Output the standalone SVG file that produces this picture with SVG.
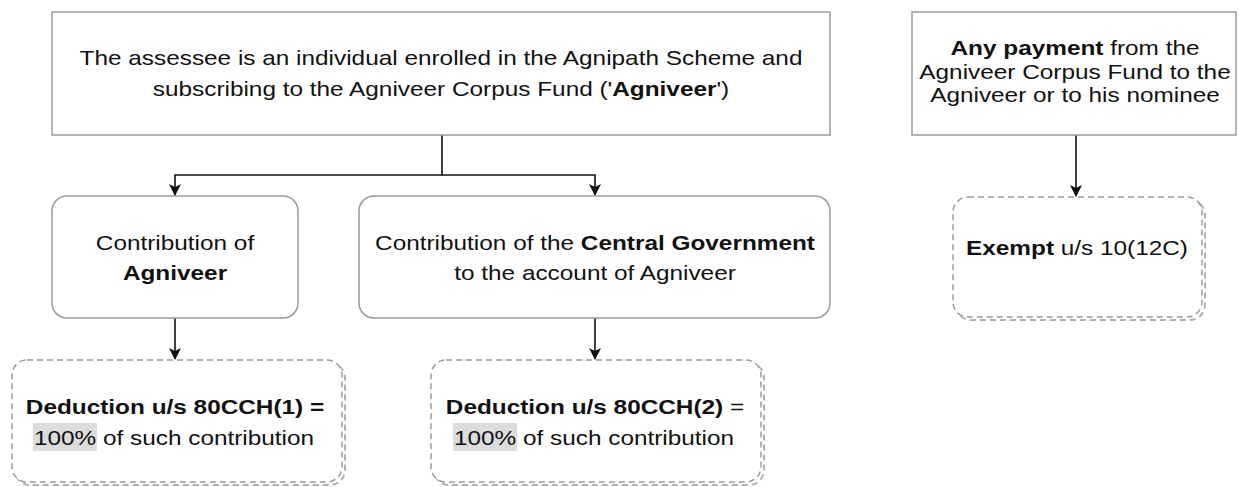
<svg xmlns="http://www.w3.org/2000/svg" width="1239" height="487" viewBox="0 0 1239 487">
<style>
text{font-family:"Liberation Sans",Arial,sans-serif;font-size:21px;fill:#111;text-anchor:middle}
.b{font-weight:bold}
.box{fill:#fff;stroke:#9a9a9a;stroke-width:1.5}
.dash{fill:#fff;stroke:#9a9a9a;stroke-width:1.5;stroke-dasharray:6 4}
.sh{fill:none;stroke:#b0b0b0;stroke-width:2;stroke-dasharray:6 4}
.con{fill:none;stroke:#111;stroke-width:1.6}
.hl{fill:#dcdcdc}
</style>
<defs>
<marker id="ar" viewBox="0 0 12 12" refX="11" refY="6" markerWidth="12" markerHeight="12" markerUnits="userSpaceOnUse" orient="auto">
<path d="M0,0 L12,6 L0,12 L3,6 Z" fill="#111"/>
</marker>
</defs>
<rect width="1239" height="487" fill="#fff"/>
<g id="connectors">
<path class="con" d="M442,135 V175 H175 V195" marker-end="url(#ar)"/>
<path class="con" d="M442,175 H595 V195" marker-end="url(#ar)"/>
<path class="con" d="M175,318 V359" marker-end="url(#ar)"/>
<path class="con" d="M595,318 V359" marker-end="url(#ar)"/>
<path class="con" d="M1076,135 V196" marker-end="url(#ar)"/>
</g>
<g id="n-assessee">
<rect class="box" x="52" y="12" width="778" height="123"/>
<text transform="translate(441 65) scale(1.16 1)">The assessee is an individual enrolled in the Agnipath Scheme and</text>
<text transform="translate(441 96) scale(1.16 1)">subscribing to the Agniveer Corpus Fund ('<tspan class="b">Agniveer</tspan>')</text>
</g>
<g id="n-payment">
<rect class="box" x="912" y="12" width="324" height="123"/>
<text transform="translate(1075 55) scale(1.16 1)"><tspan class="b">Any payment</tspan> from the</text>
<text transform="translate(1075 79) scale(1.16 1)">Agniveer Corpus Fund to the</text>
<text transform="translate(1075 102) scale(1.16 1)">Agniveer or to his nominee</text>
</g>
<g id="n-contrib-agniveer">
<rect class="box" x="52" y="196" width="246" height="122" rx="15"/>
<text transform="translate(175 250) scale(1.16 1)">Contribution of</text>
<text transform="translate(175 280) scale(1.16 1)" class="b">Agniveer</text>
</g>
<g id="n-contrib-govt">
<rect class="box" x="359" y="196" width="471" height="122" rx="15"/>
<text transform="translate(595 250) scale(1.16 1)">Contribution of the <tspan class="b">Central Government</tspan></text>
<text transform="translate(595 280) scale(1.16 1)">to the account of Agniveer</text>
</g>
<g id="n-deduction1">
<rect class="sh" x="15" y="363" width="330" height="122" rx="15"/>
<rect class="dash" x="12" y="360" width="330" height="122" rx="15"/>
<rect class="hl" x="33" y="423" width="64" height="28"/>
<text transform="translate(175 414) scale(1.16 1)" class="b">Deduction u/s 80CCH(1) =</text>
<text transform="translate(174 445) scale(1.16 1)">100% of such contribution</text>
</g>
<g id="n-deduction2">
<rect class="sh" x="434" y="363" width="330" height="122" rx="15"/>
<rect class="dash" x="431" y="360" width="330" height="122" rx="15"/>
<rect class="hl" x="453" y="423" width="64" height="28"/>
<text transform="translate(595 414) scale(1.16 1)"><tspan class="b">Deduction u/s 80CCH(2)</tspan> =</text>
<text transform="translate(594 445) scale(1.16 1)">100% of such contribution</text>
</g>
<g id="n-exempt">
<rect class="sh" x="956" y="200" width="249" height="120" rx="15"/>
<rect class="dash" x="953" y="197" width="249" height="120" rx="15"/>
<text transform="translate(1077 255) scale(1.16 1)"><tspan class="b">Exempt</tspan> u/s 10(12C)</text>
</g>
</svg>
